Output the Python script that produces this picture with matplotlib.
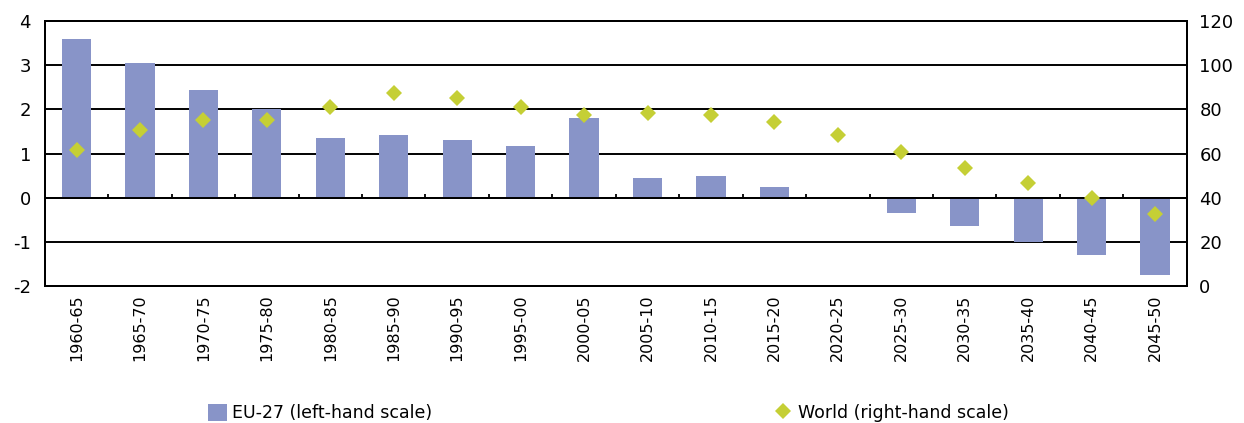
# EU-27 vs World population growth by five-year period, bars + diamonds on twin axes
import matplotlib.pyplot as plt
import numpy as np

periods = ["1960-65", "1965-70", "1970-75", "1975-80", "1980-85", "1985-90",
           "1990-95", "1995-00", "2000-05", "2005-10", "2010-15", "2015-20",
           "2020-25", "2025-30", "2030-35", "2035-40", "2040-45", "2045-50"]
eu27 = [3.6, 3.05, 2.45, 2.0, 1.36, 1.41, 1.3, 1.18, 1.8, 0.45, 0.5, 0.25,
        0.0, -0.34, -0.65, -1.0, -1.3, -1.75]          # left-hand scale
world = [61.5, 70.6, 75, 75, 81, 87.3, 85, 81, 77.4, 78.4, 77.4, 74.2,
         68.3, 60.7, 53.4, 46.6, 39.8, 32.6]          # right-hand scale

bar_color = "#8894C8"
dot_color = "#C5CF35"

plt.rcParams["font.family"] = ["DejaVu Sans"]
plt.rcParams["axes.unicode_minus"] = False

fig = plt.figure(figsize=(12.44, 4.23), dpi=100)
ax = fig.add_axes([0.036, 0.324, 0.918, 0.626])
ax2 = ax.twinx()

x = np.arange(len(periods))
ax.bar(x, eu27, width=0.46, color=bar_color, zorder=2, label="EU-27 (left-hand scale)")
ax2.plot(x, world, linestyle="none", marker="D", markersize=8.5, color=dot_color,
         markeredgewidth=0, label="World (right-hand scale)")

ax.set_xlim(-0.5, len(periods) - 0.5)
ax.set_ylim(-2, 4)
ax.set_yticks(range(-2, 5))
ax2.set_ylim(0, 120)
ax2.set_yticks(range(0, 121, 20))

# black horizontal gridlines, Excel style
ax.grid(axis="y", color="black", linewidth=1.4, zorder=1)
ax.set_axisbelow(True)

# category axis crosses at zero: small tick marks between categories
ax.vlines(x[:-1] + 0.5, 0, 0.09, color="black", linewidth=1.3, zorder=3)
ax.axhline(0, color="black", linewidth=1.4, zorder=3)

ax.set_xticks(x)
ax.set_xticklabels(periods, rotation=90, fontsize=11.5)
ax.tick_params(axis="x", length=0, pad=6)
ax.tick_params(axis="y", length=0, pad=10, labelsize=13)
ax2.tick_params(axis="y", length=0, pad=9, labelsize=13)

for a in (ax, ax2):
    for s in a.spines.values():
        s.set_color("black")
        s.set_linewidth(1.4)

h1, l1 = ax.get_legend_handles_labels()
h2, l2 = ax2.get_legend_handles_labels()
fig.legend(h1 + h2, l1 + l2, loc="lower center", bbox_to_anchor=(0.489, -0.035),
           ncol=2, frameon=False, fontsize=12.5, columnspacing=19.7,
           handlelength=1.1, handleheight=1.1, handletextpad=0.3)

plt.savefig("out.png", dpi=100)
